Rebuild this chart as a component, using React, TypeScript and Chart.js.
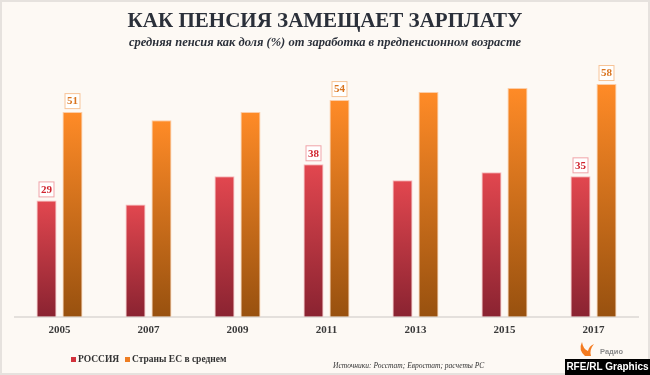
import React, { useEffect, useRef } from "react";
import { Chart, registerables } from "chart.js";

Chart.register(...registerables);

const years = ["2005", "2007", "2009", "2011", "2013", "2015", "2017"];
const russia = [29, 28, 35, 38, 34, 36, 35];
const eu = [51, 49, 51, 54, 56, 57, 58];
const russiaLabeled = [0, 3, 6];
const euLabeled = [0, 3, 6];
const seriesNames = ["РОССИЯ", "Страны ЕС в среднем"];
const titleText = "КАК ПЕНСИЯ ЗАМЕЩАЕТ ЗАРПЛАТУ";
const subtitleText = "средняя пенсия как доля (%) от заработка в предпенсионном возрасте";
const sourceText = "Источники: Росстат; Евростат; расчеты РС";

const SERIF = "'Liberation Serif', 'DejaVu Serif', serif";
const SANS = "'Liberation Sans', Arial, sans-serif";

function gradientFor(top: string, bottom: string) {
  return (ctx: any) => {
    const chart = ctx.chart;
    const y = chart.scales?.y;
    if (!y || !chart.chartArea || ctx.raw === undefined) return top;
    const yTop = y.getPixelForValue(ctx.raw);
    const yBot = y.getPixelForValue(0);
    if (!isFinite(yTop) || !isFinite(yBot) || yTop === yBot) return top;
    const g = chart.ctx.createLinearGradient(0, yTop, 0, yBot);
    g.addColorStop(0, top);
    g.addColorStop(1, bottom);
    return g;
  };
}

const decorPlugin = {
  id: "decor",
  beforeDraw(chart: any) {
    const c = chart.ctx;
    c.save();
    c.fillStyle = "#fdf9f4";
    c.fillRect(0, 0, chart.width, chart.height);
    c.strokeStyle = "#e6e2de";
    c.lineWidth = 2;
    c.strokeRect(1, 1, chart.width - 2, chart.height - 2);
    c.restore();
  },
  afterDraw(chart: any) {
    const c = chart.ctx;
    c.save();
    // title
    c.fillStyle = "#2b303a";
    c.textAlign = "center";
    c.textBaseline = "alphabetic";
    c.font = `bold 21px ${SERIF}`;
    c.fillText(titleText, 325, 27);
    c.font = `italic bold 12.5px ${SERIF}`;
    c.fillText(subtitleText, 325, 46);

    // value boxes
    const drawBox = (dsIndex: number, idx: number, color: string, border: string) => {
      const meta = chart.getDatasetMeta(dsIndex);
      const el = meta.data[idx];
      const val = chart.data.datasets[dsIndex].data[idx];
      const cx = el.x;
      const top = el.y;
      const w = 16, h = 16;
      const bx = cx - w / 2, by = top - 3 - h;
      c.fillStyle = "#ffffff";
      c.fillRect(bx, by, w, h);
      c.strokeStyle = border;
      c.lineWidth = 1;
      c.strokeRect(bx + 0.5, by + 0.5, w - 1, h - 1);
      c.fillStyle = color;
      c.font = `bold 11px ${SERIF}`;
      c.textAlign = "center";
      c.textBaseline = "middle";
      c.fillText(String(val), cx, by + h / 2 + 0.5);
    };
    russiaLabeled.forEach((i) => drawBox(0, i, "#d0242e", "#f0a3a6"));
    euLabeled.forEach((i) => drawBox(1, i, "#d9741f", "#f7c395"));

    // legend
    c.textAlign = "left";
    c.textBaseline = "middle";
    c.font = `bold 9.5px ${SERIF}`;
    c.fillStyle = "#d2323c";
    c.fillRect(71, 357, 5, 5);
    c.fillStyle = "#333333";
    c.fillText(seriesNames[0], 78, 360);
    c.fillStyle = "#ee7d22";
    c.fillRect(125, 357, 5, 5);
    c.fillStyle = "#333333";
    c.fillText(seriesNames[1], 132, 360);

    // source
    c.font = `italic 7.5px ${SERIF}`;
    c.fillStyle = "#333333";
    c.fillText(sourceText, 333, 366);

    // logo icon
    c.fillStyle = "#f47b20";
    c.beginPath();
    c.moveTo(585, 356);
    c.quadraticCurveTo(578, 350, 582, 342);
    c.quadraticCurveTo(583, 349, 588, 351);
    c.quadraticCurveTo(589, 346, 594, 344);
    c.quadraticCurveTo(589, 350, 591, 356);
    c.closePath();
    c.fill();
    c.font = `bold 7.5px ${SANS}`;
    c.fillStyle = "#8a8a8a";
    c.fillText("Радио", 600, 352);

    // RFE/RL box
    c.fillStyle = "#000000";
    c.fillRect(565, 359, 85, 16);
    c.fillStyle = "#ffffff";
    c.font = `bold 10px ${SANS}`;
    c.textAlign = "center";
    c.fillText("RFE/RL Graphics", 607.5, 367.5);
    c.restore();
  },
};

export default function App() {
  const ref = useRef<HTMLCanvasElement | null>(null);
  useEffect(() => {
    if (!ref.current) return;
    const chart = new Chart(ref.current, {
      type: "bar",
      data: {
        labels: years,
        datasets: [
          {
            label: seriesNames[0],
            data: russia,
            backgroundColor: gradientFor("#e2474f", "#8a2331"),
            borderColor: "rgba(246,178,182,0.9)",
            borderWidth: 1,
            borderSkipped: "bottom",
            barPercentage: 0.77,
            categoryPercentage: 0.584,
          },
          {
            label: seriesNames[1],
            data: eu,
            backgroundColor: gradientFor("#ff8b27", "#98510f"),
            borderColor: "rgba(252,200,158,0.9)",
            borderWidth: 1,
            borderSkipped: "bottom",
            barPercentage: 0.77,
            categoryPercentage: 0.584,
          },
        ],
      },
      plugins: [decorPlugin],
      options: {
        animation: false,
        responsive: false,
        maintainAspectRatio: false,
        layout: { padding: { left: 15, right: 12, top: 76, bottom: 31 } },
        plugins: {
          legend: { display: false },
          title: { display: false },
          tooltip: { enabled: false },
        },
        scales: {
          x: {
            grid: { display: false, drawTicks: false },
            border: { display: true, color: "#e4e0dc", width: 2 },
            ticks: {
              color: "#3a3a3a",
              font: { family: SERIF, size: 11, weight: "bold" },
              padding: 7,
            },
          },
          y: {
            display: false,
            min: 0,
            max: 60,
          },
        },
      },
    });
    return () => chart.destroy();
  }, []);
  return (
    <div style={{ position: "absolute", left: 0, top: 0, width: 650, height: 375 }}>
      <canvas ref={ref} width={650} height={375} style={{ display: "block" }} />
    </div>
  );
}
